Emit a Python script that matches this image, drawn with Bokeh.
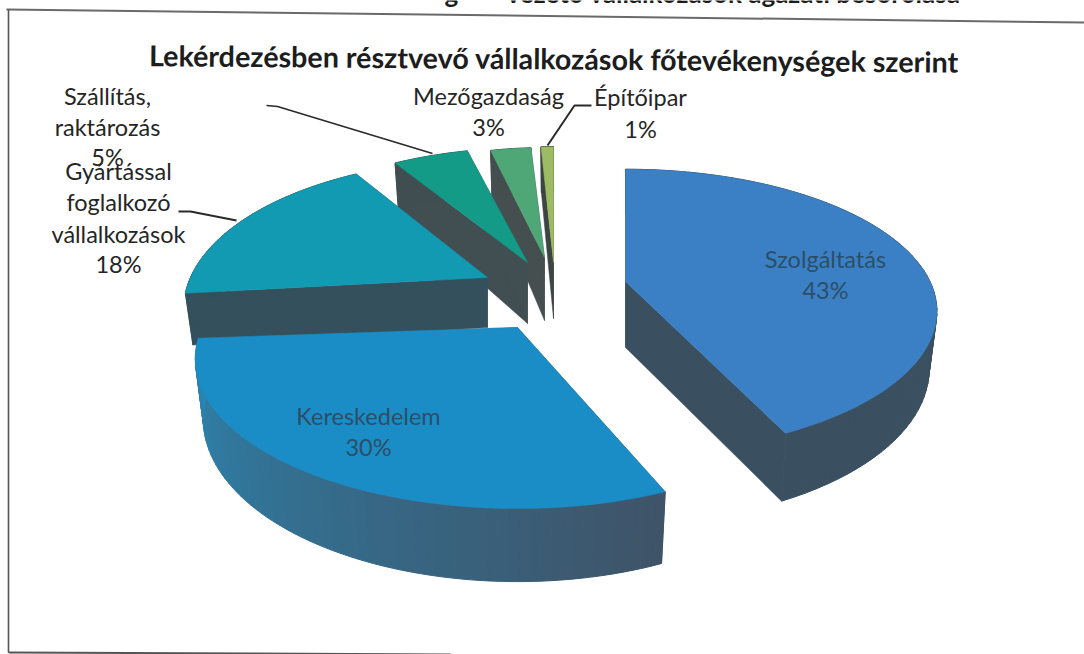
import numpy as np
from bokeh.plotting import figure
from bokeh.models import Range1d, ColumnDataSource
from bokeh.core.properties import value
from bokeh.embed import file_html
from bokeh.resources import INLINE

# ---- data
categories = ["Szolgáltatás", "Kereskedelem", "Gyártással foglalkozó vállalkozások",
              "Szállítás, raktározás", "Mezőgazdaság", "Építőipar"]
shares = [43, 30, 18, 5, 3, 1]
top_colors = ["#3b7fc4", "#1a8cc6", "#129ab3", "#149b88", "#4fa777", "#9dbb62"]
cut_colors = ["#3a4f60", "#3f5468", "#34505c", "#414f52", "#454f50", "#3c4444"]
rim_far_colors = ["#3a4f60", "#2b86b2", "#34505c", "#414f52", "#454f50", "#3c4444"]

title = "Lekérdezésben résztvevő vállalkozások  főtevékenységek szerint"
cut_heading = ["g", "vezető vállalkozások ágazati besorolása"]

# ---- layout (page pixels)
W, H = 1084, 654
apex_x = [625, 517, 487, 527, 544, 553]
apex_y = [281, 327, 277, 262, 257, 262]
apex_depth = [66, 55, 50, 61, 63, 56]
turn = [0, 3, 1, 0, 0, 0]
scale_x = [1.015, 1.05, 0.99, 0.97, 0.87, 0.8]
scale_y = [0.95, 1.0, 1.0, 0.97, 0.93, 0.98]
scale_d = [1.0, 1.05, 0.92, 1.0, 1.0, 1.0]
RX, RY, K = 300.0, 143.0, 0.21
DEPTH, SHRINK = 55.0, 0.975


def rim(theta_deg):
    t = np.radians(theta_deg)
    u, v = np.sin(t), -np.cos(t)
    f = 1.0 / (1.0 - K * v)
    return RX * u * f, RY * v * f, DEPTH * f


p = figure(width=W, height=H, output_backend="svg", toolbar_location=None,
           x_range=Range1d(0, W), y_range=Range1d(H, 0),
           min_border=0, outline_line_color=None)
p.axis.visible = False
p.grid.visible = False
p.background_fill_color = "white"

# frame of the scanned page
p.line([6, 1084], [9, 22], line_color="#6a6a6a", line_width=2)
p.line([8, 8], [9, 652], line_color="#555555", line_width=1.6)
p.line([8, 250, 450], [652, 653, 654], line_color="#555555", line_width=2)

cum = np.concatenate([[0], np.cumsum(shares)]) * 3.6
# painter's order: back slices first
for i in [5, 4, 3, 2, 1, 0]:
    ax, ay, ad = apex_x[i], apex_y[i], apex_depth[i]
    th = np.linspace(cum[i], cum[i + 1], 70) + turn[i]
    dx, dy, dh = rim(th)
    dx, dy, dh = dx * scale_x[i], dy * scale_y[i], dh * scale_d[i]
    # cut faces
    for j in (0, -1):
        p.patch([ax, ax + dx[j], ax + dx[j] * SHRINK, ax],
                [ay, ay + dy[j], ay + dy[j] + dh[j], ay + ad],
                fill_color=cut_colors[i], line_color=cut_colors[i], line_width=0.5)
    # outer wall, shaded from one end of the arc to the other
    c0 = np.array([int(cut_colors[i][k:k + 2], 16) for k in (1, 3, 5)], float)
    c1 = np.array([int(rim_far_colors[i][k:k + 2], 16) for k in (1, 3, 5)], float)
    for s in range(len(th) - 1):
        c = c0 + (c1 - c0) * s / (len(th) - 2)
        col = "#%02x%02x%02x" % tuple(int(x) for x in c)
        p.patch([ax + dx[s], ax + dx[s + 1], ax + dx[s + 1] * SHRINK, ax + dx[s] * SHRINK],
                [ay + dy[s], ay + dy[s + 1], ay + dy[s + 1] + dh[s + 1], ay + dy[s] + dh[s]],
                fill_color=col, line_color=col, line_width=1)
    # top face
    p.patch(np.concatenate([[ax], ax + dx]), np.concatenate([[ay], ay + dy]),
            fill_color=top_colors[i], line_color=top_colors[i], line_width=0.5)

# leader lines
p.line([266, 277, 432], [105, 106, 153], line_color="#2a2a2a", line_width=1.6)
p.line([591, 574, 547], [105, 105, 145], line_color="#2a2a2a", line_width=2)
p.line([178, 190, 236], [211, 211, 220], line_color="#2a2a2a", line_width=2.2)

# texts
FONT = value("Lato")
p.text([444], [8], text=[cut_heading[0]], text_font=FONT, text_font_size="26px", text_font_style="bold",
       text_color="#1c1c1c", text_align="left", text_baseline="bottom")
p.text([960], [8], text=[cut_heading[1]], text_font=FONT, text_font_size="26px", text_font_style="bold",
       text_color="#1c1c1c", text_align="right", text_baseline="bottom")
p.text([557], [58], text=[title], text_font=FONT, text_font_size="28.7px", text_font_style="bold",
       text_color="#1d1d1d", text_align="center", text_baseline="middle", angle=-0.008)

out = ColumnDataSource(dict(
    x=[107, 107, 107, 118, 118, 118, 118, 488, 488, 640, 640],
    y=[95, 126, 156, 170, 201, 233, 263, 95, 126, 96, 128],
    t=["Szállítás,", "raktározás", "5%", "Gyártással", "foglalkozó", "vállalkozások", "18%",
       "Mezőgazdaság", "3%", "Építőipar", "1%"]))
p.text("x", "y", text="t", source=out, text_font=FONT, text_font_size="23.5px",
       text_color="#252525", text_align="center", text_baseline="middle")

inn = ColumnDataSource(dict(
    x=[825, 825, 368, 368], y=[258, 289, 415, 446],
    t=["Szolgáltatás", "43%", "Kereskedelem", "30%"]))
p.text("x", "y", text="t", source=inn, text_font=FONT, text_font_size="23.5px",
       text_color="#2c4f68", text_align="center", text_baseline="middle")

open("out.html", "w").write(file_html(p, INLINE))
